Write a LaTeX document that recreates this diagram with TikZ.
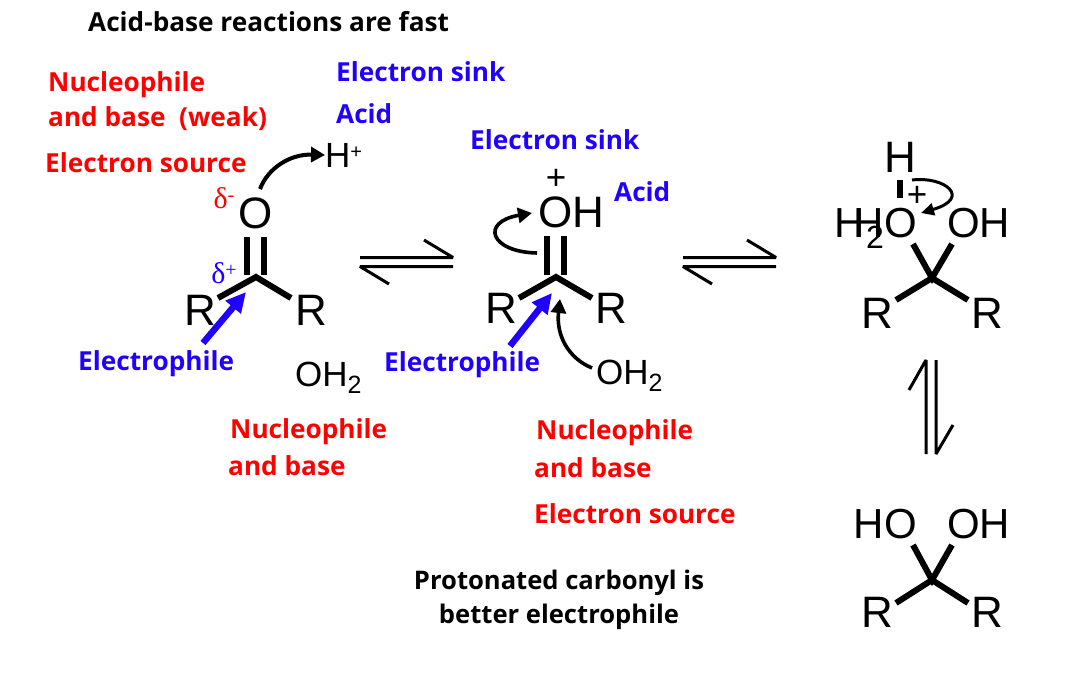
\documentclass[tikz,border=0pt]{standalone}
\usepackage{fontspec}
\setmainfont{Open Sans}
\newfontfamily\chemfont{Liberation Sans}
\newfontfamily\deltafont{Liberation Serif}
\usetikzlibrary{arrows.meta}
\definecolor{labelred}{RGB}{255,0,0}
\definecolor{labelblue}{RGB}{32,0,255}
\tikzset{
  atom/.style={font=\chemfont\fontsize{44}{44}\selectfont,inner sep=0pt},
  hydroxyl/.style={font=\chemfont\fontsize{42}{42}\selectfont,inner sep=0pt},
  smallatom/.style={font=\chemfont\fontsize{35}{35}\selectfont,inner sep=0pt},
  tag/.style={font=\bfseries\fontsize{26.2}{26.2}\selectfont,inner sep=0pt,anchor=west,text height=18pt,text depth=0pt},
  redtag/.style={tag,text=labelred},
  bluetag/.style={tag,text=labelblue},
  blacktag/.style={tag,font=\bfseries\fontsize{25.6}{25.6}\selectfont,text=black,anchor=center},
  bond/.style={line width=6pt},
  eqline/.style={line width=3pt,line join=bevel},
  pusharrow/.style={line width=4pt,-{Triangle[length=14pt,width=15pt]}},
  attack/.style={line width=6.5pt,labelblue,-{Triangle[length=20pt,width=19pt]}}
}
\begin{document}
\begin{tikzpicture}[x=1pt,y=-1pt]
  \useasboundingbox (0,0) rectangle (1080,699);
  % headings and labels
  \node [tag,text=black] (title) at (88,22) {Acid-base reactions are fast};
  \node [redtag] (nucweak) at (48,82) {Nucleophile};
  \node [redtag] (baseweak) at (48,117) {and base\ \ (weak)};
  \node [redtag] (sourcea) at (45,163) {Electron source};
  \node [bluetag] (sinka) at (336,72) {Electron sink};
  \node [bluetag] (acida) at (336,114) {Acid};
  \node [bluetag] (sinkb) at (470,140) {Electron sink};
  \node [bluetag] (acidb) at (614,192) {Acid};
  \node [bluetag] (elecla) at (78,361) {Electrophile};
  \node [bluetag] (eleclb) at (384,362) {Electrophile};
  \node [redtag] (nuca) at (230,429) {Nucleophile};
  \node [redtag] (basea) at (228,466) {and base};
  \node [redtag] (nucb) at (536,430) {Nucleophile};
  \node [redtag] (baseb) at (534,468) {and base};
  \node [redtag] (sourceb) at (534,514) {Electron source};
  \node [blacktag] (better) at (559,580) {Protonated carbonyl is};
  \node [blacktag] (betterb) at (559,614) {better electrophile};

  % carbonyl
  \coordinate (ca) at (256,277);
  \node [atom] (oa) at (256,213) {O};
  \node [atom] (ral) at (200,310) {R};
  \node [atom] (rar) at (311,310) {R};
  \coordinate (ralend) at (218,298);
  \coordinate (rarend) at (291,298);
  \draw [bond] (ralend) -- (ca) -- (rarend);
  \draw [bond] (247,237) -- (247,275);
  \draw [bond] (264,237) -- (264,275);
  \node [smallatom,anchor=west] (hplus) at (325,155) {H\raisebox{9pt}{\fontsize{20}{20}\selectfont +}};
  \node [font=\deltafont\fontsize{30}{30}\selectfont,text=labelred,inner sep=0pt] (dminus) at (224,198) {δ\raisebox{7pt}{\fontsize{20}{20}\selectfont -}};
  \node [font=\deltafont\fontsize{30}{30}\selectfont,text=labelblue,inner sep=0pt] (dplus) at (224,273) {δ\raisebox{7pt}{\fontsize{20}{20}\selectfont +}};
  \node [smallatom,anchor=west] (wata) at (295,378) {OH\raisebox{-7pt}{\fontsize{25}{25}\selectfont 2}};
  \coordinate (oatail) at (260,189);
  \draw [pusharrow] (oatail) .. controls (268,168) and (290,154) .. (hplus.west);
  \coordinate (atailb) at (203,343);
  \coordinate (atipb) at (246,292);
  \draw [attack] (atailb) -- (atipb);

  % protonated carbonyl
  \coordinate (cb) at (556,277);
  \node [atom] (ob) at (571,212) {OH};
  \node [smallatom] (plusb) at (556,179) {+};
  \node [atom] (rbl) at (501,308) {R};
  \node [atom] (rbr) at (611,308) {R};
  \coordinate (rblend) at (519,298);
  \coordinate (rbrend) at (592,298);
  \draw [bond] (rblend) -- (cb) -- (rbrend);
  \draw [bond] (547,236) -- (547,275);
  \draw [bond] (564,236) -- (564,275);
  \node [smallatom,anchor=west] (watb) at (596,376) {OH\raisebox{-7pt}{\fontsize{25}{25}\selectfont 2}};
  \coordinate (pitail) at (537,253);
  \coordinate (pitip) at (532,213);
  \draw [pusharrow,line width=3.6pt] (pitail) .. controls (490,252) and (480,222) .. (pitip);
  \coordinate (wattail) at (592,368);
  \coordinate (wattip) at (560,299);
  \draw [pusharrow,line width=3.6pt] (wattail) .. controls (568,358) and (556,335) .. (wattip);
  \coordinate (btailb) at (510,346);
  \coordinate (btipb) at (552,293);
  \draw [attack] (btailb) -- (btipb);

  % tetrahedral, protonated
  \coordinate (cc) at (932,278);
  \node [atom] (hc) at (900,157) {H};
  \coordinate (hcbond) at (900,180);
  \coordinate (ocbond) at (900,198);
  \draw [bond] (hcbond) -- (ocbond);
  \node [smallatom] (plusc) at (917,196) {+};
  \node [hydroxyl,anchor=east] (hoc) at (917,223) {HO};
  \node [hydroxyl,anchor=west] (ohc) at (947,223) {OH};
  \node [hydroxyl] (hwat) at (850,223) {H};
  \node [font=\chemfont\fontsize{32}{32}\selectfont,inner sep=0pt] (twoc) at (875,237) {2};
  \node [atom] (rcl) at (877,313) {R};
  \node [atom] (rcr) at (987,313) {R};
  \coordinate (cca) at (913,244);
  \coordinate (ccb) at (952,244);
  \coordinate (ccc) at (896,300);
  \coordinate (ccd) at (968,300);
  \draw [bond] (cca) -- (cc) -- (ccb);
  \draw [bond] (ccc) -- (cc) -- (ccd);
  \coordinate (hoptail) at (912,180);
  \coordinate (hoptip) at (921,213);
  \draw [line width=3pt,-{Triangle[length=13pt,width=12pt]}] (hoptail) .. controls (945,176) and (972,198) .. (hoptip);

  % hydrate
  \coordinate (cd) at (932,580);
  \node [hydroxyl,anchor=east] (hod) at (917,524) {HO};
  \node [hydroxyl,anchor=west] (ohd) at (947,524) {OH};
  \node [atom] (rdl) at (877,612) {R};
  \node [atom] (rdr) at (987,612) {R};
  \coordinate (cda) at (913,545);
  \coordinate (cdb) at (952,545);
  \coordinate (cdc) at (896,603);
  \coordinate (cdd) at (968,603);
  \draw [bond] (cda) -- (cd) -- (cdb);
  \draw [bond] (cdc) -- (cd) -- (cdd);

  % equilibria
  \foreach \eqname/\x in {eqa/360,eqb/683}{
    \coordinate (\eqname l) at (\x,266.5);
    \coordinate (\eqname r) at (\x+93,257.5);
    \draw [eqline] (\eqname l) ++(29,17.5) -- (\eqname l) -- ++(93,0);
    \draw [eqline] (\eqname r) ++(-29,-17.5) -- (\eqname r) -- ++(-93,0);
  }
  \coordinate (eqct) at (926,360);
  \coordinate (eqcb) at (936,454);
  \draw [eqline] (909,390) -- (eqct) -- (926,454);
  \draw [eqline] (953,425) -- (eqcb) -- (936,360);
\end{tikzpicture}
\end{document}
